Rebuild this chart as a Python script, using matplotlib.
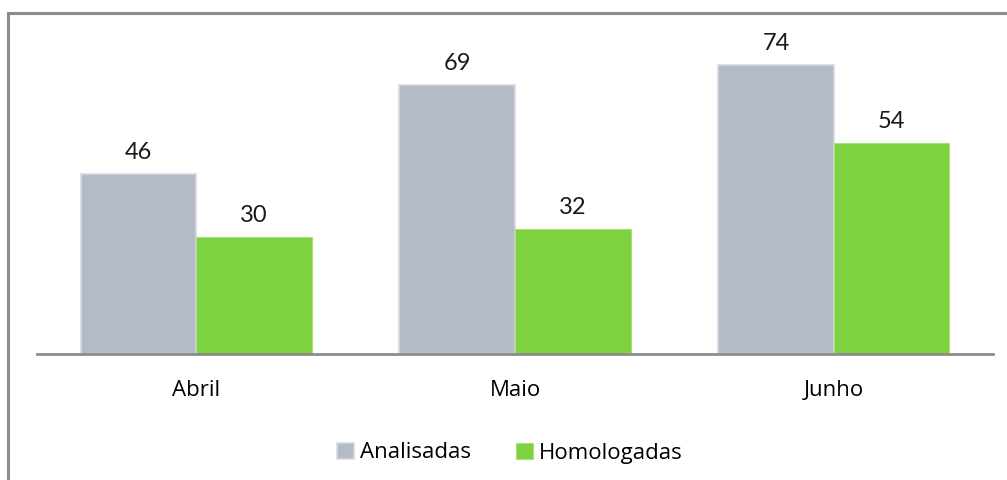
import matplotlib
matplotlib.use("Agg")
import matplotlib.pyplot as plt
import numpy as np
from matplotlib.patches import Rectangle

months = ["Abril", "Maio", "Junho"]
analisadas = [46, 69, 74]
homologadas = [30, 32, 54]

plt.rcParams['font.family'] = ['Open Sans', 'DejaVu Sans']

fig = plt.figure(figsize=(10.07, 4.8), dpi=100)
ax = fig.add_axes([37 / 1007, 126 / 480, 956 / 1007, (354 - 41.6) / 480])

x = np.arange(len(months))
w = 0.3625
b1 = ax.bar(x - w / 2, analisadas, w, color='#B4BAC8', edgecolor='#D5D9E1',
            linewidth=1.2, label='Analisadas')
b2 = ax.bar(x + w / 2, homologadas, w, color='#7ED13F', edgecolor='#A8E07A',
            linewidth=0.8, label='Homologadas')

# value labels above each bar
for bars, vals in [(b1, analisadas), (b2, homologadas)]:
    for r, v in zip(bars, vals):
        ax.text(r.get_x() + r.get_width() / 2, v + 2.8, str(v),
                ha='center', va='bottom', fontsize=17, family='Lato', color='#1a1a1a')

ax.set_xlim(-0.5, 2.5)
ax.set_ylim(0, 80)
ax.set_xticks(x)
ax.set_xticklabels(months, fontsize=16)
ax.tick_params(axis='x', length=0, pad=19)
ax.set_yticks([])
for s in ['top', 'right', 'left']:
    ax.spines[s].set_visible(False)
ax.spines['bottom'].set_color('#8C8C8C')
ax.spines['bottom'].set_linewidth(2)

fig.legend(loc='center', bbox_to_anchor=(510 / 1007, 1 - 453 / 480), ncol=2,
           frameon=False, fontsize=16, handlelength=0.75, handleheight=0.75,
           handletextpad=0.3, columnspacing=2.0)

# chart frame (cut off on right and bottom like the original)
fig.patches.append(Rectangle((8 / 1007, -0.1), 1.2, (480 - 13) / 480 + 0.1,
                             transform=fig.transFigure, fill=False,
                             edgecolor='#8C8C8C', linewidth=2.2))

fig.savefig('out.png', dpi=100)
